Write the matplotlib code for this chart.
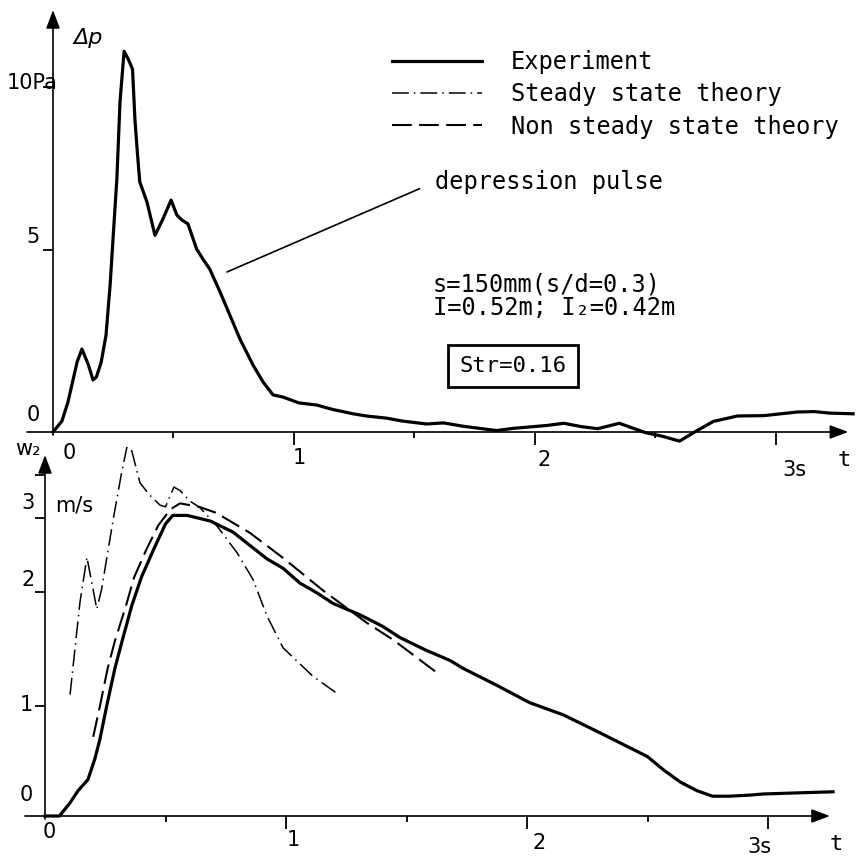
import numpy as np
import matplotlib
matplotlib.use("Agg")
import matplotlib.pyplot as plt

# ---- upper panel: pressure pulse dp [Pa] over t [s] (experiment)
t_dp = [0.0, 0.037, 0.062, 0.10, 0.12, 0.147, 0.166, 0.18, 0.20, 0.22, 0.237, 0.25,
        0.265, 0.278, 0.295, 0.312, 0.33, 0.34, 0.35, 0.36, 0.375, 0.39, 0.423,
        0.456, 0.49, 0.514, 0.535, 0.56, 0.596, 0.622, 0.65, 0.693, 0.734, 0.776,
        0.83, 0.872, 0.913, 0.954, 1.02, 1.095, 1.16, 1.245, 1.30, 1.385, 1.45,
        1.55, 1.62, 1.70, 1.77, 1.84, 1.91, 1.98, 2.05, 2.12, 2.19, 2.26, 2.35,
        2.40, 2.46, 2.53, 2.60, 2.67, 2.74, 2.84, 2.95, 3.02, 3.09, 3.16, 3.22, 3.32]
dp = [0.0, 0.3, 0.82, 1.92, 2.28, 1.84, 1.43, 1.51, 1.92, 2.66, 4.04, 5.45,
      7.18, 9.54, 11.1, 10.86, 10.55, 9.0, 8.0, 7.09, 6.78, 6.47, 5.45,
      5.95, 6.53, 6.07, 5.92, 5.8, 5.03, 4.75, 4.48, 3.85, 3.21, 2.55,
      1.84, 1.37, 1.02, 0.96, 0.8, 0.74, 0.62, 0.5, 0.44, 0.38, 0.3,
      0.22, 0.25, 0.16, 0.1, 0.04, 0.1, 0.14, 0.18, 0.24, 0.15, 0.09, 0.24,
      0.12, -0.02, -0.12, -0.25, 0.03, 0.29, 0.44, 0.45, 0.5, 0.55, 0.56, 0.52, 0.5]

# ---- lower panel: velocity w2 [m/s] over t [s]
t_exp = [0.0, 0.06, 0.104, 0.137, 0.178, 0.207, 0.228, 0.257, 0.29, 0.32, 0.36, 0.40,
         0.45, 0.50, 0.53, 0.59, 0.685, 0.78, 0.85, 0.92, 0.988, 1.058, 1.13, 1.195,
         1.307, 1.40, 1.473, 1.58, 1.68, 1.735, 1.876, 2.01, 2.15, 2.29, 2.427, 2.5,
         2.566, 2.635, 2.705, 2.77, 2.84, 2.925, 2.98, 3.12, 3.27]
w_exp = [0.0, 0.0, 0.12, 0.23, 0.33, 0.52, 0.70, 1.01, 1.33, 1.57, 1.88, 2.2,
         2.57, 2.92, 3.03, 3.03, 2.96, 2.81, 2.63, 2.45, 2.32, 2.12, 1.99, 1.9,
         1.80, 1.70, 1.60, 1.49, 1.40, 1.33, 1.18, 1.03, 0.92, 0.77, 0.62, 0.54,
         0.42, 0.31, 0.23, 0.18, 0.18, 0.19, 0.20, 0.21, 0.22]

t_nst = [0.20, 0.228, 0.26, 0.29, 0.336, 0.37, 0.42, 0.47, 0.52, 0.56, 0.64, 0.71,
         0.85, 0.988, 1.154, 1.335, 1.445, 1.64]
w_nst = [0.72, 1.0, 1.33, 1.57, 1.88, 2.2, 2.57, 2.9, 3.1, 3.17, 3.13, 3.06,
         2.8, 2.46, 2.02, 1.73, 1.58, 1.27]

t_st = [0.104, 0.145, 0.174, 0.215, 0.235, 0.284, 0.318, 0.344, 0.36, 0.394, 0.43,
        0.477, 0.50, 0.535, 0.56, 0.60, 0.643, 0.714, 0.797, 0.863, 0.921, 0.988,
        1.112, 1.212]
w_st = [1.10, 1.91, 2.47, 1.85, 2.04, 3.0, 3.53, 3.88, 3.78, 3.41, 3.28,
        3.15, 3.13, 3.36, 3.32, 3.2, 3.12, 2.89, 2.53, 2.17, 1.79, 1.51,
        1.26, 1.11]

t_ticks = [0, 1, 2, 3]
t_ticklabels = ['0', '1', '2', '3s']
t_minor = [0.5, 1.5, 2.5]
dp_ticks = [0, 5, 10]
dp_ticklabels = ['0', '5', '10Pa']
w_ticks = [0, 1, 2, 3]
w_ticklabels = ['0', '1', '2', '3']
w_extra_tick = [3.5]

legend_labels = ['Experiment', 'Steady state theory', 'Non steady state theory']

# label offsets in pixels (the scanned lettering is not placed uniformly)
top_x_off = [(10, -11), (-1, -16), (3, -18), (6, -28)]
bot_x_off = [(-2, -6), (1, -14), (6, -17), (-21, -21)]
top_y_off = [(-13, 17), (-13, 13), (5, 4)]
bot_y_off = [(-12, 21), (-12, 1), (-10, 12), (-10, 15)]

MONO = 'DejaVu Sans Mono'
SANS = 'DejaVu Sans'
PT = 0.72  # points per pixel at 100 dpi


# the hand drawn axes are not evenly divided, so use a piecewise scale
def warp(vals, heights):
    vals = np.asarray(vals, float)
    heights = np.asarray(heights, float)
    fwd = lambda v: np.interp(v, vals, heights)
    inv = lambda h: np.interp(h, heights, vals)
    return fwd, inv


dp_fwd, dp_inv = warp([-20, 0, 5, 10, 40], [-728, 0, 182, 345, 1320])
w_fwd, w_inv = warp([-10, 0, 1, 2, 3, 4, 20], [-1100, 0, 110, 224, 298, 384, 1760])

W, H = 860, 857
fig = plt.figure(figsize=(8.6, 8.57), dpi=100)

# upper axes: pixels 0..447, baseline at 432, t=0 at x=53, 241 px per second
ax1 = fig.add_axes([0, 1 - 447 / H, 1, 447 / H])
ax1.set_yscale('function', functions=(dp_fwd, dp_inv))
ax1.set_xlim(-53 / 241, (W - 53) / 241)
ax1.set_ylim(dp_inv(-15), dp_inv(432))

# lower axes: pixels 447..857, baseline at 816, t=0 at x=45
ax2 = fig.add_axes([0, 0, 1, 410 / H])
ax2.set_yscale('function', functions=(w_fwd, w_inv))
ax2.set_xlim(-45 / 241, (W - 45) / 241)
ax2.set_ylim(w_inv(-41), w_inv(369))

for ax, xoff in ((ax1, top_x_off), (ax2, bot_x_off)):
    ax.patch.set_alpha(0)
    for s in ('top', 'right'):
        ax.spines[s].set_visible(False)
    for s in ('bottom', 'left'):
        ax.spines[s].set_position(('data', 0))
        ax.spines[s].set_color('none')
    ax.set_xticks(t_ticks[1:])
    ax.set_xticks(t_minor, minor=True)
    ax.set_xticklabels([])
    ax.tick_params(axis='x', which='major', length=9, width=1.3, direction='out')
    ax.tick_params(axis='x', which='minor', length=4, width=1.3, direction='out')
    ax.tick_params(axis='y', which='major', length=7, width=1.3, direction='out')
    ax.tick_params(axis='y', which='minor', length=0)
    for lbl, t, (dx, dy) in zip(t_ticklabels, t_ticks, xoff):
        ax.annotate(lbl, (t, 0), xytext=(dx * PT, dy * PT), textcoords='offset points',
                    ha='left', va='top', fontsize=15, family=SANS)
    ax.annotate('t', (3.257, 0), xytext=(0, -18 * PT), textcoords='offset points',
                ha='left', va='top', fontsize=16, family=MONO)

ax1.set_yticks(dp_ticks[1:])
ax1.set_yticklabels([])
ax2.set_yticks(w_ticks[1:] + w_extra_tick)
ax2.set_yticklabels([])

arrow = dict(arrowstyle='-|>,head_length=0.8,head_width=0.3', lw=1.2, color='black',
             shrinkA=0, shrinkB=0, mutation_scale=14)

# axis lines with arrows
ax1.annotate('', xy=(3.30, 0), xytext=(-0.108, 0), arrowprops=arrow)
ax1.annotate('', xy=(0, dp_inv(422)), xytext=(0, dp_inv(-3)), arrowprops=arrow)
ax2.annotate('', xy=(3.257, 0), xytext=(-0.083, 0), arrowprops=arrow)
ax2.annotate('', xy=(0, w_inv(361)), xytext=(0, w_inv(-3)), arrowprops=arrow)

for lbl, v, (dx, dy) in zip(dp_ticklabels, dp_ticks, top_y_off):
    ax1.annotate(lbl, (0, v), xytext=(dx * PT, dy * PT), textcoords='offset points',
                 ha='right', va='center', fontsize=15, family=SANS)
for lbl, v, (dx, dy) in zip(w_ticklabels, w_ticks, bot_y_off):
    ax2.annotate(lbl, (0, v), xytext=(dx * PT, dy * PT), textcoords='offset points',
                 ha='right', va='center', fontsize=15, family=SANS)

ax1.annotate('Δp', (0, dp_inv(422)), xytext=(15, -20), textcoords='offset points',
             ha='left', va='center', fontsize=16, family=SANS, fontstyle='italic')
ax2.annotate('m/s', (0, 3), xytext=(7, 9), textcoords='offset points',
             ha='left', va='center', fontsize=15, family=SANS)
ax2.annotate('w₂', (0, w_inv(361)), xytext=(-12, 4), textcoords='offset points',
             ha='center', va='center', fontsize=15, family=SANS)

# curves
ax1.plot(t_dp, dp, color='black', lw=2.3, solid_joinstyle='round')
l_exp, = ax2.plot(t_exp, w_exp, color='black', lw=2.3, solid_joinstyle='round')
l_st, = ax2.plot(t_st, w_st, color='black', lw=1.1, linestyle=(0, (11, 3.3, 1, 3.3)))
l_nst, = ax2.plot(t_nst, w_nst, color='black', lw=1.5, linestyle=(0, (9.5, 3.5)))

fig.legend([l_exp, l_st, l_nst], legend_labels, loc='upper left',
           bbox_to_anchor=(392 / W, 1 - 50 / H), frameon=False,
           prop={'family': MONO, 'size': 17}, handlelength=3.8,
           handletextpad=1.25, labelspacing=0.35, borderpad=0, borderaxespad=0)

ax1.annotate('depression pulse', xy=(0.722, dp_inv(160)),
             xytext=(435 / W, 1 - 182 / H), textcoords='figure fraction',
             ha='left', va='center', fontsize=17, family=MONO,
             arrowprops=dict(arrowstyle='-', lw=1.2, color='black',
                             relpos=(0, 0.5), shrinkA=10, shrinkB=0))

fig.text(433 / W, 1 - 272 / H, 's=150mm(s/d=0.3)\nI=0.52m; I₂=0.42m',
         ha='left', va='top', fontsize=17, family=MONO, linespacing=1.0)

fig.text(513 / W, 1 - 366 / H, 'Str=0.16', ha='center', va='center',
         fontsize=16, family=MONO,
         bbox=dict(boxstyle='square,pad=0.5', fc='white', ec='black', lw=2))

fig.savefig('out.png', dpi=100)
